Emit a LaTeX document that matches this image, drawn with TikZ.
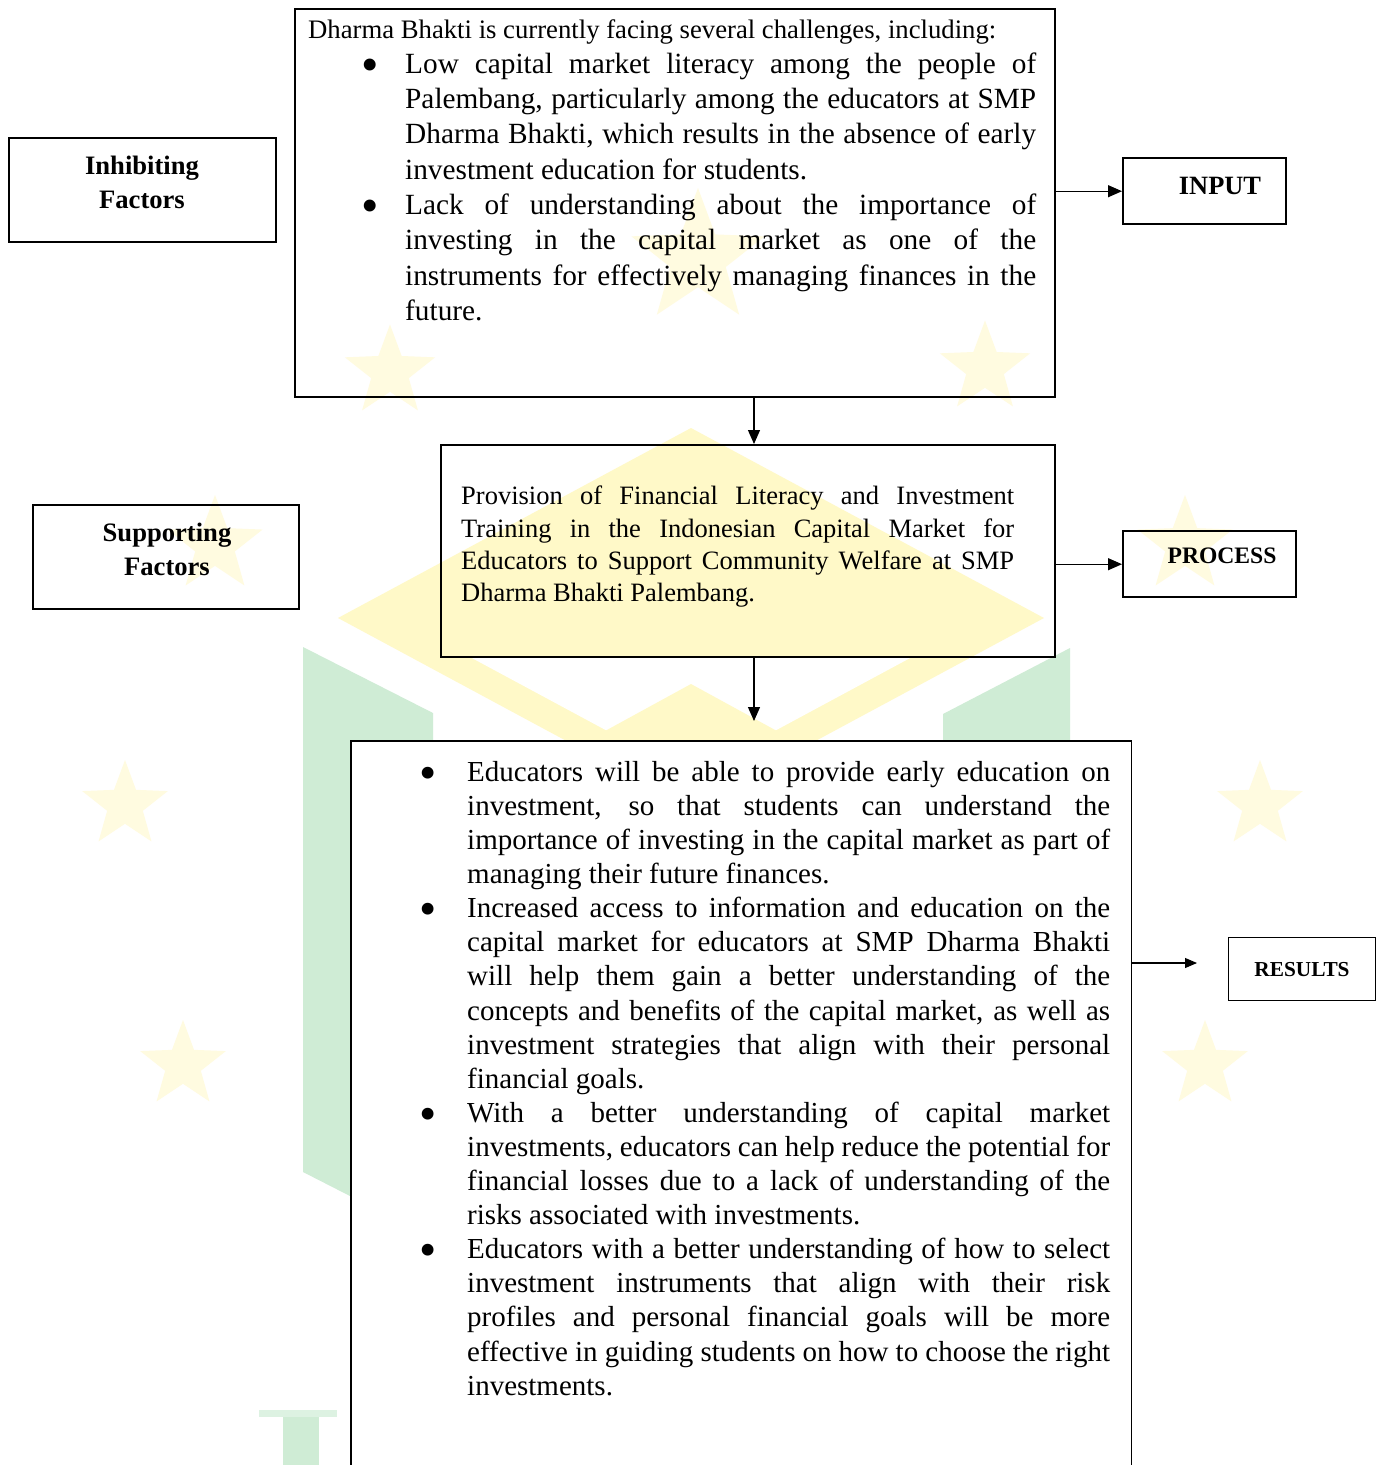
\documentclass[tikz,border=0pt]{standalone}
\usepackage{fontspec}
\usepackage{graphicx}
\setmainfont{Liberation Serif}
\usetikzlibrary{arrows.meta,shapes.geometric}
\definecolor{wmyellow}{RGB}{255,249,200}
\definecolor{wmstar}{RGB}{255,251,224}
\definecolor{wmgreen}{RGB}{207,236,213}
\newcommand{\bigbul}{\raisebox{-0.27em}{\scalebox{1.7}{\textbullet}}}
\begin{document}
\begin{tikzpicture}[x=1pt,y=-1pt,
  thickbox/.style={draw, line width=2.4pt, rectangle, inner sep=0pt, anchor=north west},
  thinbox/.style={draw, line width=1.2pt, rectangle, inner sep=0pt, anchor=north west},
  label/.style={inner sep=0pt, align=center, font=\bfseries},
  bodytext/.style={inner sep=0pt, anchor=north west, align=justify},
  conn/.style={line width=1.2pt, -{Triangle[length=14pt,width=12pt]}},
  connthin/.style={line width=1.1pt, -{Triangle[length=12pt,width=10pt]}},
  wmstarnode/.style={star, star points=5, star point ratio=2.4, fill=wmstar, draw=none, inner sep=0pt}
]
\useasboundingbox (0,0) rectangle (1376,1465);
\fill[white] (0,0) rectangle (1376,1465);
% ---------- watermark ----------
\fill[wmyellow] (338,618) -- (691,428) -- (1044,618) -- (691,808) -- cycle;
\fill[white] (470,657) -- (912,657) -- (691,776) -- cycle;
\fill[wmyellow] (691,684) -- (830,760) -- (552,760) -- cycle;
\fill[wmgreen] (303,647) -- (433,713) -- (433,1196) -- (350,1196) -- (303,1172) -- cycle;
\fill[wmgreen] (1070,648) -- (943,714) -- (943,1196) -- (1070,1172) -- cycle;
\fill[wmgreen!70!white] (259,1410) rectangle (337,1417);
\fill[wmgreen] (283,1417) rectangle (319,1465);
\node[wmstarnode, minimum size=140pt] (st0) at (698,258) {};
\node[wmstarnode, minimum size=95pt] (st1) at (390,372) {};
\node[wmstarnode, minimum size=95pt] (st2) at (985,368) {};
\node[wmstarnode, minimum size=100pt] (st3) at (215,545) {};
\node[wmstarnode, minimum size=100pt] (st4) at (1185,545) {};
\node[wmstarnode, minimum size=90pt] (st5) at (125,805) {};
\node[wmstarnode, minimum size=90pt] (st6) at (1260,805) {};
\node[wmstarnode, minimum size=90pt] (st7) at (183,1065) {};
\node[wmstarnode, minimum size=90pt] (st8) at (1205,1065) {};
% ---------- boxes ----------
\node[thickbox, minimum width=267pt, minimum height=104pt] (inh) at (8,137) {};
\node[thickbox, minimum width=760pt, minimum height=388pt] (chal) at (294,8) {};
\node[thickbox, minimum width=163pt, minimum height=66pt] (inp) at (1122,157) {};
\node[thickbox, minimum width=266pt, minimum height=104pt] (sup) at (32,504) {};
\node[thickbox, minimum width=614pt, minimum height=212pt] (proc) at (440,444) {};
\node[thickbox, minimum width=173pt, minimum height=66pt] (procL) at (1122,530) {};
\node[fill=white, draw=none, inner sep=0pt, anchor=north west, minimum width=780pt, minimum height=724pt] (res) at (351,741) {};
\draw[line width=1.2pt] (res.south west) -- (res.north west) -- (res.north east) -- (res.south east);
\node[thinbox, minimum width=147pt, minimum height=63pt] (resL) at (1228,937) {};
% ---------- labels ----------
\node[label, font=\bfseries\fontsize{26.6}{34}\selectfont] (inhT) at (142,182) {Inhibiting\\Factors};
\node[label, font=\bfseries\fontsize{26.6}{34}\selectfont] (supT) at (167,549) {Supporting\\Factors};
\node[label, font=\bfseries\fontsize{26.4}{30}\selectfont] (inpT) at (1220,186) {INPUT};
\node[label, font=\bfseries\fontsize{23.6}{28}\selectfont] (procT) at (1222,556) {PROCESS};
\node[label, font=\bfseries\fontsize{21.3}{26}\selectfont] (resT) at (1302,970) {RESULTS};
% ---------- body texts ----------
\node[bodytext, text width=728pt] (chalT) at (308,19) {%
\tolerance=10000\hbadness=10000\hyphenpenalty=10000\parindent=0pt
{\fontsize{26.7}{32}\selectfont Dharma Bhakti is currently facing several challenges, including:\par}
\fontsize{29.3}{35.3}\selectfont
\hangindent=97pt\hangafter=1\makebox[97pt][l]{\hspace{53pt}\bigbul}Low capital market literacy among the people of\linebreak
Palembang, particularly among the educators at SMP\linebreak
Dharma Bhakti, which results in the absence of early\linebreak
investment education for students.\par
\hangindent=97pt\hangafter=1\makebox[97pt][l]{\hspace{53pt}\bigbul}Lack of understanding about the importance of\linebreak
investing in the capital market as one of the\linebreak
instruments for effectively managing finances in the\linebreak
future.\par};
\node[bodytext, text width=553pt] (procB) at (461,486) {%
\tolerance=10000\hbadness=10000\hyphenpenalty=10000\parindent=0pt
\fontsize{26.5}{32.3}\selectfont
Provision of Financial Literacy and Investment\linebreak
Training in the Indonesian Capital Market for\linebreak
Educators to Support Community Welfare at SMP\linebreak
Dharma Bhakti Palembang.\par};
\node[bodytext, text width=700pt] (resB) at (410,761) {%
\tolerance=10000\hbadness=10000\hyphenpenalty=10000\parindent=0pt
\fontsize{29}{34.1}\selectfont
\hangindent=57pt\hangafter=1\makebox[57pt][l]{\hspace{9.5pt}\bigbul}Educators will be able to provide early education on\linebreak
investment, so that students can understand the\linebreak
importance of investing in the capital market as part of\linebreak
managing their future finances.\par
\hangindent=57pt\hangafter=1\makebox[57pt][l]{\hspace{9.5pt}\bigbul}Increased access to information and education on the\linebreak
capital market for educators at SMP Dharma Bhakti\linebreak
will help them gain a better understanding of the\linebreak
concepts and benefits of the capital market, as well as\linebreak
investment strategies that align with their personal\linebreak
financial goals.\par
\hangindent=57pt\hangafter=1\makebox[57pt][l]{\hspace{9.5pt}\bigbul}With a better understanding of capital market\linebreak
investments, educators can help reduce the potential for\linebreak
financial losses due to a lack of understanding of the\linebreak
risks associated with investments.\par
\hangindent=57pt\hangafter=1\makebox[57pt][l]{\hspace{9.5pt}\bigbul}Educators with a better understanding of how to select\linebreak
investment instruments that align with their risk\linebreak
profiles and personal financial goals will be more\linebreak
effective in guiding students on how to choose the right\linebreak
investments.\par};
% ---------- connectors ----------
\coordinate (axis) at (754,0);
\coordinate (a2e) at (754,721);
\coordinate (r3) at (1197,963);
\draw[conn] (chal.east |- inp.west) -- (inp.west);
\draw[conn] (chal.south -| axis) -- (proc.north -| axis);
\draw[conn] (proc.south -| axis) -- (a2e);
\draw[conn] (proc.east |- procL.west) -- (procL.west);
\draw[connthin] (r3 -| res.east) -- (r3);
\end{tikzpicture}
\end{document}
